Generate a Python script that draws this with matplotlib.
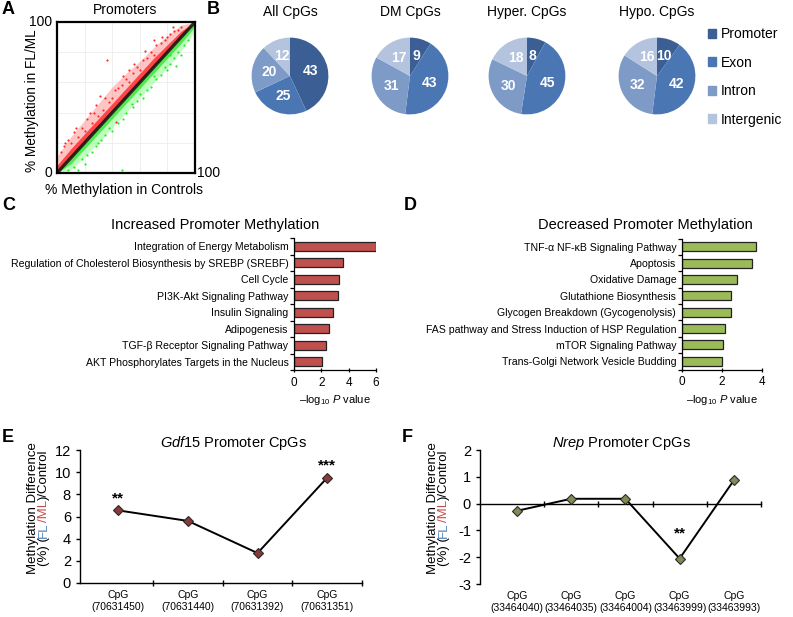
import matplotlib
matplotlib.use("Agg")
import matplotlib.pyplot as plt
from matplotlib.patches import Patch
from matplotlib.transforms import blended_transform_factory
import numpy as np

plt.rcParams['font.family'] = ['Liberation Sans', 'DejaVu Sans']
plt.rcParams['mathtext.fontset'] = 'custom'
plt.rcParams['mathtext.rm'] = 'Liberation Sans'
plt.rcParams['mathtext.it'] = 'Liberation Sans:italic'
plt.rcParams['axes.unicode_minus'] = False

W, H = 793, 617

# ---- panel A: promoter methylation scatter (envelopes + sparse points)
band_x = [0, 10, 20, 30, 40, 50, 60, 70, 80, 90, 100]
red_dense_hi = [5, 16, 26, 36, 46, 56, 66, 76, 85, 94, 100]
red_sparse_hi = [11, 24, 35, 46, 57, 66, 74, 83, 91, 98, 100]
green_dense_lo = [0, 6, 16, 26, 36, 46, 56, 66, 76, 86, 97]
green_sparse_lo = [0, 2, 11, 20, 30, 40, 50, 60, 70, 81, 94]
red_x = [3, 5, 8, 10, 12, 15, 18, 20, 22, 25, 27, 30, 31, 33, 36, 38, 40, 43, 44, 47, 50, 52, 55,
         58, 60, 62, 65, 68, 70, 72, 75, 78, 80, 82, 85, 88, 90, 64, 56, 48, 35, 24, 14, 6, 76, 84,
         70, 52, 42, 28]
red_y = [14, 18, 22, 20, 27, 24, 30, 28, 36, 33, 40, 38, 51, 42, 75, 47, 50, 34, 56, 58, 62, 60, 66,
         70, 68, 75, 76, 80, 78, 85, 86, 88, 90, 92, 94, 95, 97, 81, 72, 64, 50, 40, 30, 20, 90, 97,
         88, 68, 55, 45]
green_x = [8, 12, 18, 22, 25, 28, 32, 35, 40, 44, 48, 50, 55, 58, 62, 65, 68, 72, 75, 78, 82, 85,
           88, 92, 95, 82, 60, 38, 20, 47, 86, 70, 90, 80, 54, 30, 15]
green_y = [2, 4, 9, 12, 14, 18, 22, 25, 28, 33, 36, 40, 44, 48, 50, 55, 57, 62, 65, 70, 72, 76,
           80, 85, 88, 78, 52, 30, 6, 2, 71, 64, 78, 68, 46, 20, 2]

# ---- panel B: genomic distribution of CpGs (%)
pie_titles = ['All CpGs', 'DM CpGs', 'Hyper. CpGs', 'Hypo. CpGs']
regions = ['Promoter', 'Exon', 'Intron', 'Intergenic']
all_cpgs = [43, 25, 20, 12]
dm_cpgs = [9, 43, 31, 17]
hyper_cpgs = [8, 45, 30, 18]
hypo_cpgs = [10, 42, 32, 16]
pie_colors = ['#3b5f94', '#4a77b4', '#7e9bc8', '#b4c4de']

# ---- panel C / D: pathway enrichment (-log10 P)
inc_paths = ['Integration of Energy Metabolism',
             'Regulation of Cholesterol Biosynthesis by SREBP (SREBF)',
             'Cell Cycle', 'PI3K-Akt Signaling Pathway', 'Insulin Signaling',
             'Adipogenesis', 'TGF-β Receptor Signaling Pathway',
             'AKT Phosphorylates Targets in the Nucleus']
inc_vals = [6.0, 3.6, 3.3, 3.23, 2.83, 2.56, 2.36, 2.07]
dec_paths = ['TNF-α NF-κB Signaling Pathway', 'Apoptosis', 'Oxidative Damage',
             'Glutathione Biosynthesis', 'Glycogen Breakdown (Gycogenolysis)',
             'FAS pathway and Stress Induction of HSP Regulation',
             'mTOR Signaling Pathway', 'Trans-Golgi Network Vesicle Budding']
dec_vals = [3.7, 3.5, 2.78, 2.45, 2.45, 2.17, 2.08, 2.03]

# ---- panel E / F: promoter CpG methylation differences
gdf15_cpg = ['70631450', '70631440', '70631392', '70631351']
gdf15_diff = [6.55, 5.6, 2.7, 9.5]
gdf15_stars = ['**', '', '', '***']
nrep_cpg = ['33464040', '33464035', '33464004', '33463999', '33463993']
nrep_diff = [-0.27, 0.18, 0.18, -2.05, 0.87]
nrep_stars = ['', '', '', '**', '']


def box(l, t, r, b):
    return [l / W, 1 - b / H, (r - l) / W, (b - t) / H]


fig = plt.figure(figsize=(W / 100, H / 100), dpi=100)


def ftext(x, y, s, **kw):
    return fig.text(x / W, 1 - y / H, s, **kw)


for lab, (x, y) in zip('ABCDEF', [(2, 10), (207, 10), (2, 206), (404, 206), (2, 437), (402, 437)]):
    ftext(x, y, lab, fontsize=13, fontweight='bold', va='center', ha='left')

# A
axA = fig.add_axes(box(57, 22, 195, 173))
axA.fill_between(band_x, band_x, red_sparse_hi, color='#ff7070', alpha=0.4, lw=0)
axA.fill_between(band_x, band_x, red_dense_hi, color='#ff1a1a', alpha=0.75, lw=0)
axA.fill_between(band_x, green_sparse_lo, band_x, color='#70ff70', alpha=0.45, lw=0)
axA.fill_between(band_x, green_dense_lo, band_x, color='#22e022', alpha=0.7, lw=0)
axA.scatter(red_x, red_y, s=2.5, color='#ff2a2a', lw=0)
axA.scatter(green_x, green_y, s=2.5, color='#22ee22', lw=0)
axA.plot([0, 100], [0, 100], color='#111111', lw=2.4, alpha=0.85)
axA.set_xlim(0, 100)
axA.set_ylim(0, 100)
axA.set_xticks([20, 40, 60, 80])
axA.set_yticks([20, 40, 60, 80])
axA.grid(color='#ececec', lw=0.6)
axA.set_axisbelow(True)
axA.tick_params(length=0, labelbottom=False, labelleft=False)
for s in axA.spines.values():
    s.set_linewidth(1.6)
ftext(125, 10, 'Promoters', fontsize=10, ha='center', va='center')
ftext(52, 22, '100', fontsize=10, ha='right', va='center')
ftext(52, 173, '0', fontsize=10, ha='right', va='center')
ftext(197, 173, '100', fontsize=10, ha='left', va='center')
ftext(124, 190, '% Methylation in Controls', fontsize=10, ha='center', va='center')
ftext(32, 101, '% Methylation in FL/ML', fontsize=9.8, ha='center', va='center', rotation=90)

# B
pie_data = [all_cpgs, dm_cpgs, hyper_cpgs, hypo_cpgs]
centers = [290, 410, 527, 657]
for title, vals, cx in zip(pie_titles, pie_data, centers):
    ax = fig.add_axes(box(cx - 48, 28, cx + 48, 124))
    it = iter(vals)
    ax.pie(vals, colors=pie_colors, startangle=90, counterclock=False,
           autopct=lambda p, it=it: str(next(it)), pctdistance=0.55,
           textprops=dict(color='white', fontweight='bold', fontsize=10))
    ax.set_aspect('equal')
    ftext(cx, 12, title, fontsize=10, ha='center', va='center')
handles = [Patch(color=c) for c in pie_colors]
fig.legend(handles, regions, loc='upper left', bbox_to_anchor=(708 / W, 1 - 27 / H),
           frameon=False, fontsize=10, handlelength=0.6, handleheight=0.6,
           handletextpad=0.3, labelspacing=1.05, borderpad=0, borderaxespad=0)


def bar_panel(rect, names, vals, color, xmax, title, title_x):
    ax = fig.add_axes(rect)
    y = np.arange(len(names))
    ax.barh(y, vals, height=0.55, color=color, edgecolor='#222222', lw=0.9)
    ax.set_ylim(len(names) - 0.5, -0.5)
    ax.set_xlim(0, xmax)
    ax.set_yticks(y)
    ax.set_yticklabels(names, fontsize=7.6)
    ax.tick_params(axis='y', length=0, pad=4)
    ax.set_yticks(np.arange(len(names) + 1) - 0.5, minor=True)
    ax.tick_params(axis='y', which='minor', length=3, width=0.9)
    ax.set_xticks(np.arange(0, xmax + 1, 2))
    ax.tick_params(axis='x', labelsize=8.5, length=3, width=0.9, direction='inout')
    for s in ['top', 'right']:
        ax.spines[s].set_visible(False)
    for s in ['left', 'bottom']:
        ax.spines[s].set_linewidth(0.9)
    ax.set_xlabel(r'–log$_{10}$ $\it{P}$ value', fontsize=8, labelpad=3)
    ftext(title_x, 225, title, fontsize=10.5, ha='center', va='center')
    return ax


bar_panel(box(294, 238, 376, 370), inc_paths, inc_vals, '#c0504d', 6,
          'Increased Promoter Methylation', 215)
bar_panel(box(681.7, 238.5, 761.7, 369.5), dec_paths, dec_vals, '#9bbb59', 4,
          'Decreased Promoter Methylation', 645)


def rot_ylabel(x_base1, x_base2, yc, size=9.5):
    fig.canvas.draw()
    r = fig.canvas.get_renderer()
    t1 = ftext(x_base1, yc, 'Methylation Difference', fontsize=size, rotation=90,
               rotation_mode='anchor', ha='left', va='baseline')
    h1 = t1.get_window_extent(r).height
    t1.set_position((x_base1 / W, 1 - (yc + h1 / 2) / H))
    pieces = [('(%) (', 'black'), ('FL', '#4f81bd'), ('/ML', '#c0504d'), (')/Control', 'black')]
    objs = []
    total = 0
    for s, c in pieces:
        t = ftext(x_base2, yc, s, fontsize=size, color=c, rotation=90,
                  rotation_mode='anchor', ha='left', va='baseline')
        h = t.get_window_extent(r).height
        objs.append((t, h))
        total += h
    ypos = yc + total / 2
    for t, h in objs:
        t.set_position((x_base2 / W, 1 - ypos / H))
        ypos -= h


def line_panel(rect, cpgs, vals, stars, xlim, ylim, yticks, mcolor, zero_axis):
    ax = fig.add_axes(rect)
    x = np.arange(len(vals))
    ax.plot(x, vals, color='black', lw=1.4, marker='D', ms=5.5, mfc=mcolor,
            mec='#2a2a2a', mew=0.8, zorder=3)
    ax.set_xlim(*xlim)
    ax.set_ylim(*ylim)
    ax.set_yticks(yticks)
    ax.tick_params(axis='y', labelsize=10.5, length=3, width=1)
    ax.set_xticks(np.arange(len(vals)) + 0.5)
    ax.set_xticklabels([])
    ax.tick_params(axis='x', length=5, width=1, direction='inout')
    for s in ['top', 'right']:
        ax.spines[s].set_visible(False)
    for s in ['left', 'bottom']:
        ax.spines[s].set_linewidth(1)
    if zero_axis:
        ax.spines['bottom'].set_position(('data', 0))
    tr = blended_transform_factory(ax.transData, ax.transAxes)
    for i, c in enumerate(cpgs):
        ax.text(i, -0.055, 'CpG\n(' + c + ')', transform=tr, ha='center', va='top',
                fontsize=7.5, linespacing=1.15)
    span = ylim[1] - ylim[0]
    for i, s in enumerate(stars):
        if s:
            off = span * 0.09 if vals[i] > 0 else span * 0.19
            ax.text(i, vals[i] + off, s, ha='center', va='center',
                    fontsize=11, fontweight='bold')
    return ax


line_panel(box(80, 450, 362, 583), gdf15_cpg, gdf15_diff, gdf15_stars,
           (-0.55, 3.5), (0, 12), range(0, 13, 2), '#8b3a3a', False)
ftext(234, 443, r'$\it{Gdf15}$ Promoter CpGs', fontsize=10.5, ha='center', va='center')
rot_ylabel(36, 47, 508)

line_panel(box(480, 450, 761, 584), nrep_cpg, nrep_diff, nrep_stars,
           (-0.68, 4.5), (-3, 2), range(-3, 3), '#7f8c55', True)
ftext(621, 443, r'$\it{Nrep}$ Promoter CpGs', fontsize=10.5, ha='center', va='center')
rot_ylabel(436, 447, 508)

fig.savefig('out.png', dpi=100)
